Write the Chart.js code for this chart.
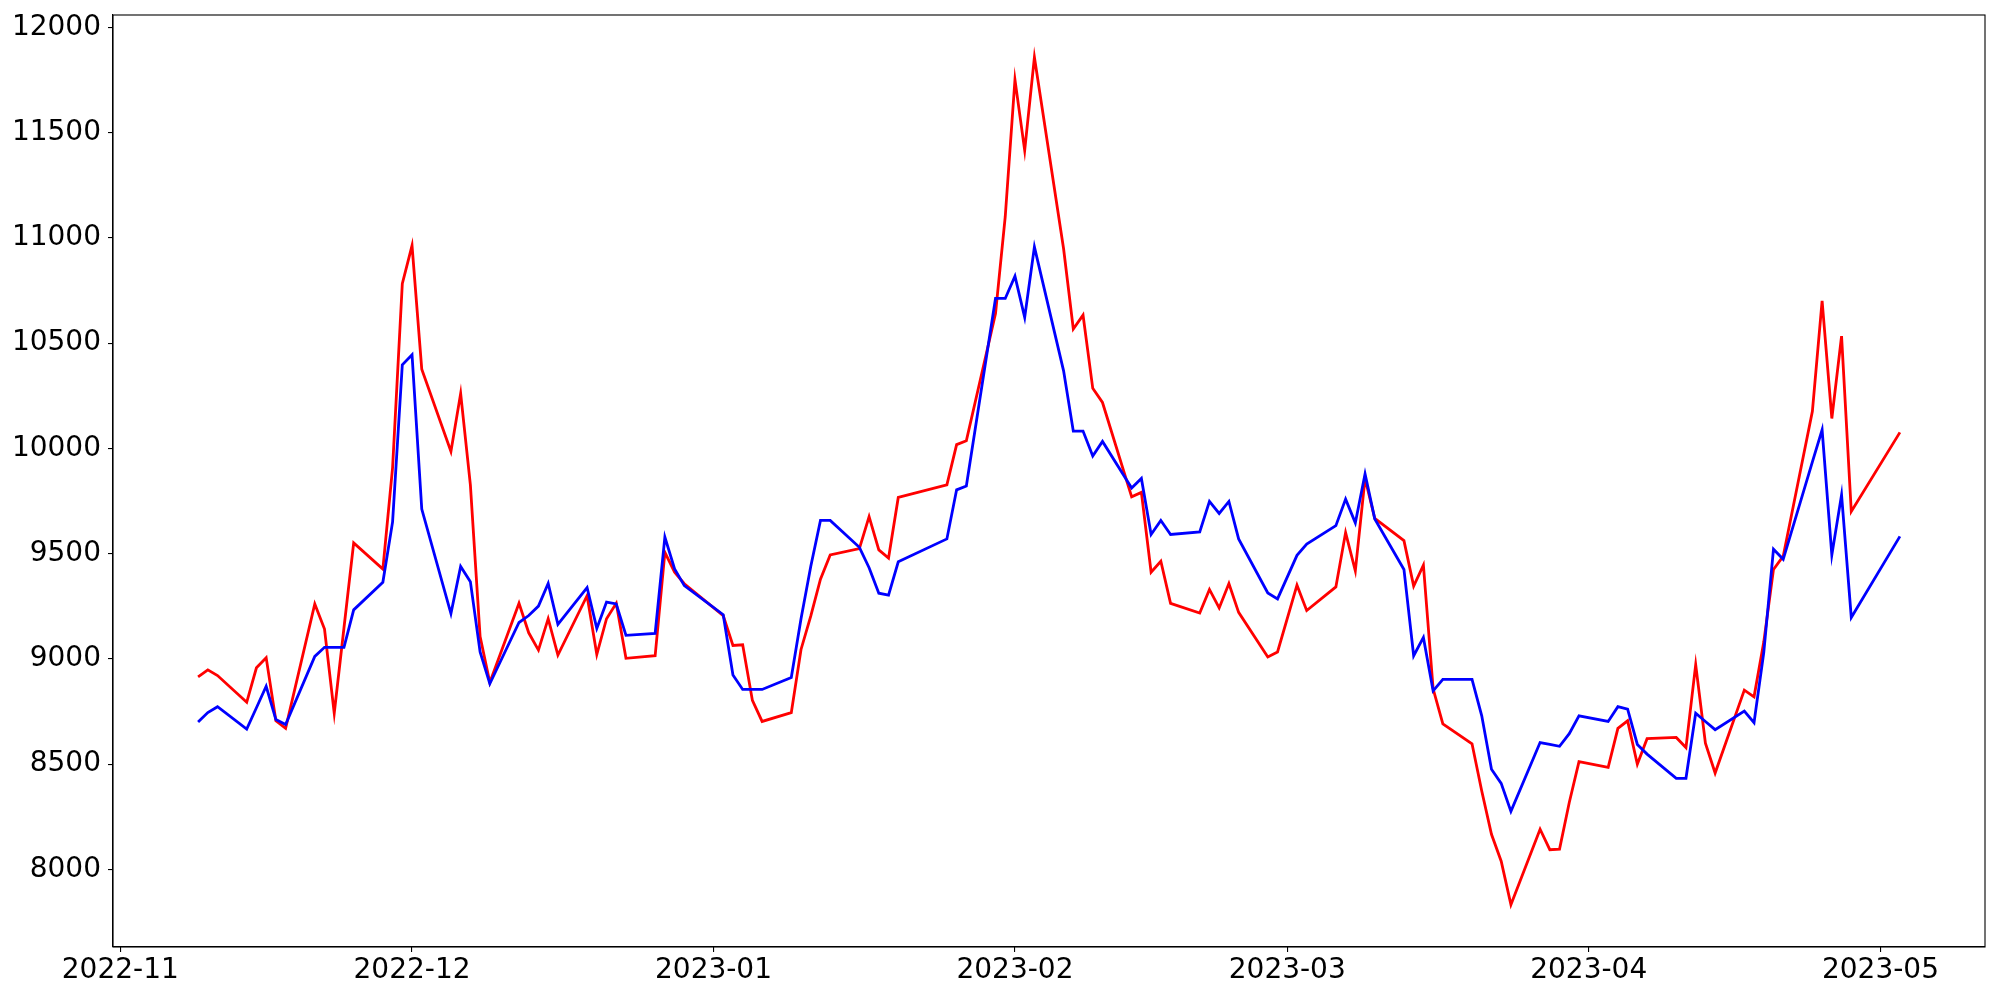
<!DOCTYPE html>
<html>
<head>
<meta charset="utf-8">
<script src="https://cdn.jsdelivr.net/npm/chart.js@4/dist/chart.umd.min.js"></script>
<style>
html,body{margin:0;padding:0;background:#fff;}
#wrap{width:2000px;height:1000px;}
canvas{display:block;}
</style>
</head>
<body>
<div id="wrap"><canvas id="c" width="2000" height="1000"></canvas></div>
<script>
const dates = [
'2022-11-09','2022-11-10','2022-11-11','2022-11-14','2022-11-15','2022-11-16','2022-11-17','2022-11-18',
'2022-11-21','2022-11-22','2022-11-23','2022-11-24','2022-11-25','2022-11-28','2022-11-29','2022-11-30',
'2022-12-01','2022-12-02','2022-12-05','2022-12-06','2022-12-07','2022-12-08','2022-12-09',
'2022-12-12','2022-12-13','2022-12-14','2022-12-15','2022-12-16',
'2022-12-19','2022-12-20','2022-12-21','2022-12-22','2022-12-23',
'2022-12-26','2022-12-27','2022-12-28','2022-12-29',
'2023-01-02','2023-01-03','2023-01-04','2023-01-05','2023-01-06',
'2023-01-09','2023-01-10','2023-01-11','2023-01-12','2023-01-13',
'2023-01-16','2023-01-17','2023-01-18','2023-01-19','2023-01-20',
'2023-01-25','2023-01-26','2023-01-27',
'2023-01-30','2023-01-31','2023-02-01','2023-02-02','2023-02-03',
'2023-02-06','2023-02-07','2023-02-08','2023-02-09','2023-02-10',
'2023-02-13','2023-02-14','2023-02-15','2023-02-16','2023-02-17',
'2023-02-20','2023-02-21','2023-02-22','2023-02-23','2023-02-24',
'2023-02-27','2023-02-28','2023-03-02','2023-03-03',
'2023-03-06','2023-03-07','2023-03-08','2023-03-09','2023-03-10',
'2023-03-13','2023-03-14','2023-03-15','2023-03-16','2023-03-17',
'2023-03-20','2023-03-21','2023-03-22','2023-03-23','2023-03-24',
'2023-03-27','2023-03-28','2023-03-29','2023-03-30','2023-03-31',
'2023-04-03','2023-04-04','2023-04-05','2023-04-06','2023-04-07',
'2023-04-10','2023-04-11','2023-04-12','2023-04-13','2023-04-14',
'2023-04-17','2023-04-18','2023-04-19','2023-04-20','2023-04-21',
'2023-04-24','2023-04-25','2023-04-26','2023-04-27','2023-04-28',
'2023-05-03'
];

const redValues = [
8915,8948,8921,8794,8958,9006,8706,8670,
9261,9142,8742,9147,9551,9427,9909,10782,
10963,10376,9985,10260,9827,9106,8888,
9264,9124,9042,9191,9018,
9300,9021,9191,9264,9003,
9015,9506,9412,9357,
9206,9064,9067,8803,8703,
8745,9045,9203,9379,9494,
9524,9676,9518,9479,9767,
9827,10018,10036,
10640,11100,11751,11415,11857,
10948,10567,10633,10285,10218,
9770,9791,9412,9464,9264,
9218,9330,9242,9358,9221,
9009,9033,9350,9230,
9342,9600,9418,9857,9667,
9562,9346,9445,8858,8691,
8597,8373,8167,8039,7833,
8191,8094,8097,8318,8512,
8485,8670,8706,8500,8621,
8627,8579,8973,8600,8458,
8852,8820,9080,9425,9488,
10176,10700,10142,10533,9700,
10076
];

const blueValues = [
8700,8745,8773,8667,8768,8870,8712,8688,
9012,9055,9055,9055,9233,9364,9651,10397,
10445,9712,9215,9439,9367,9033,8882,
9173,9206,9251,9358,9164,
9339,9145,9270,9261,9112,
9121,9579,9427,9348,
9210,8924,8855,8855,8855,
8912,9191,9439,9658,9658,
9530,9433,9312,9303,9461,
9570,9803,9821,
10712,10712,10818,10622,10957,
10368,10082,10082,9964,10033,
9812,9857,9591,9658,9591,
9603,9748,9691,9748,9570,
9313,9285,9492,9545,
9633,9759,9646,9879,9665,
9425,9015,9102,8848,8903,
8903,8730,8476,8409,8276,
8603,8594,8585,8645,8730,
8703,8773,8761,8594,8548,
8433,8433,8742,8703,8664,
8752,8697,9030,9521,9473,
9936,10088,9494,9779,9197,
9582
];

const monthTicks = ['2022-11-01','2022-12-01','2023-01-01','2023-02-01','2023-03-01','2023-04-01','2023-05-01'];
const yTickStep = 500;

const DAY = 86400000;
const toDay = s => Date.parse(s + 'T00:00:00Z') / DAY;
const xs = dates.map(toDay);
const redPts = xs.map((x, i) => ({x: x, y: redValues[i]}));
const bluePts = xs.map((x, i) => ({x: x, y: blueValues[i]}));

const xMinD = Math.min(...xs), xMaxD = Math.max(...xs);
const xPad = (xMaxD - xMinD) * 0.05;
const allY = redValues.concat(blueValues);
const yMinD = Math.min(...allY), yMaxD = Math.max(...allY);
const yPad = (yMaxD - yMinD) * 0.05;

const tickDays = monthTicks.map(toDay);
const fmtMonth = d => {
  const dt = new Date(d * DAY);
  const m = dt.getUTCMonth() + 1;
  return dt.getUTCFullYear() + '-' + (m < 10 ? '0' + m : '' + m);
};

const frame = {
  id: 'frame',
  afterDraw(chart) {
    const a = chart.chartArea, ctx = chart.ctx;
    ctx.save();
    ctx.strokeStyle = '#000';
    ctx.lineWidth = 1.1;
    ctx.strokeRect(a.left, a.top, a.right - a.left, a.bottom - a.top);
    ctx.restore();
  }
};

const font = {family: 'DejaVu Sans', size: 28};

new Chart(document.getElementById('c'), {
  type: 'line',
  data: {
    datasets: [
      {data: bluePts, borderColor: '#0000ff', borderWidth: 2.8, pointRadius: 0, fill: false, tension: 0},
      {data: redPts, borderColor: '#ff0000', borderWidth: 2.8, pointRadius: 0, fill: false, tension: 0}
    ]
  },
  options: {
    responsive: false,
    animation: false,
    devicePixelRatio: 1,
    layout: {padding: {top: 15, right: 15, left: 0, bottom: 0}},
    plugins: {legend: {display: false}, tooltip: {enabled: false}},
    scales: {
      x: {
        type: 'linear',
        min: xMinD - xPad,
        max: xMaxD + xPad,
        afterBuildTicks: s => { s.ticks = tickDays.map(v => ({value: v})); },
        afterFit: s => { s.height = 53; s.paddingLeft = 0; s.paddingRight = 0; },
        ticks: {
          callback: v => fmtMonth(v),
          font: font, color: '#000', padding: 2, maxRotation: 0, autoSkip: false
        },
        grid: {display: true, drawOnChartArea: false, drawTicks: true, tickLength: 5, color: '#000', lineWidth: 1.1},
        border: {display: true, color: '#000', width: 1.1}
      },
      y: {
        type: 'linear',
        min: yMinD - yPad,
        max: yMaxD + yPad,
        afterBuildTicks: s => {
          const t = [];
          for (let v = Math.ceil(s.min / yTickStep) * yTickStep; v <= s.max; v += yTickStep) t.push({value: v});
          s.ticks = t;
        },
        afterFit: s => { s.width = 113; s.paddingTop = 0; s.paddingBottom = 0; },
        ticks: {font: font, color: '#000', padding: 7, callback: v => String(v)},
        grid: {display: true, drawOnChartArea: false, drawTicks: true, tickLength: 5, color: '#000', lineWidth: 1.1},
        border: {display: true, color: '#000', width: 1.1}
      }
    }
  },
  plugins: [frame]
});
</script>
</body>
</html>
